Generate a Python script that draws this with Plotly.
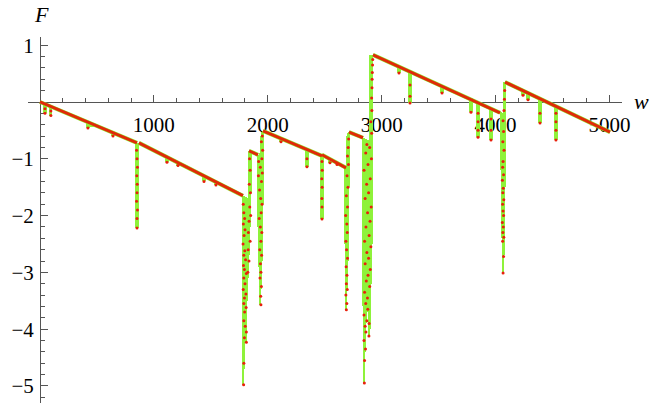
import numpy as np
import plotly.graph_objects as go

# ---- sawtooth envelope: straight pieces (start w, start F, end w, end F)
seg_w0 = [0, 869, 1835, 1958, 2476, 2713, 2924, 4083]
seg_f0 = [0.0, -0.72, -0.86, -0.51, -0.93, -0.53, 0.83, 0.35]
seg_w1 = [852, 1782, 1914, 2476, 2687, 2836, 4039, 5005]
seg_f1 = [-0.72, -1.65, -0.93, -0.95, -1.16, -0.63, -0.19, -0.53]

# ---- wide dip regions: column position, top value, deepest value
col_w = [1782, 1788, 1796, 1804, 1812, 1820, 1828, 1836, 1844, 1850,
         1918, 1926, 1934, 1942, 1950, 1958,
         2682, 2690, 2698, 2706, 2713,
         2840, 2848, 2856, 2864, 2872, 2880, 2888, 2896, 2904, 2912, 2920,
         4050, 4058, 4066, 4074, 4082]
col_top = [-1.65, -1.66, -1.66, -1.67, -1.68, -1.69, -1.70, -0.86, -0.87, -0.87,
           -0.93, -0.93, -0.90, -0.60, -0.52, -0.51,
           -1.15, -1.16, -0.60, -0.54, -0.53,
           -0.63, -0.64, -0.65, -0.66, -0.67, -0.67, -0.68, 0.83, 0.83, 0.83, 0.83,
           -0.18, -0.19, -0.19, 0.35, 0.35]
col_bot = [-2.90, -4.98, -4.70, -3.90, -4.23, -3.50, -3.10, -2.70, -2.20, -1.60,
           -2.20, -2.90, -3.57, -3.30, -2.80, -1.80,
           -2.50, -3.66, -3.30, -2.80, -1.50,
           -3.60, -4.95, -4.40, -3.90, -3.50, -3.70, -4.12, -4.00, -3.20, -2.50, -1.20,
           -1.20, -2.40, -3.01, -2.70, -1.50]

# ---- narrow drips hanging from the envelope: position, lowest value
drip_w = [44, 96, 421, 457, 641, 852, 1115, 1212, 1440, 1545,
          2116, 2344, 2476, 2546, 2608, 3152, 3249, 3530, 3784, 3846, 3960,
          4241, 4285, 4390, 4530]
drip_bot = [-0.20, -0.24, -0.46, -0.44, -0.60, -2.22, -1.06, -1.12, -1.40, -1.46,
            -0.70, -1.14, -2.06, -1.07, -1.10, 0.51, -0.02, 0.16, -0.18, -0.62, -0.67,
            0.12, 0.04, -0.37, -0.67]

# ---- sampled points lying inside the dips
pt_w = [44, 44, 96, 96, 421, 641,
        848, 852, 856, 850, 854, 852, 848, 856, 852, 852,
        1115, 1212, 1440, 1545,
        1785, 1790, 1797, 1786, 1800, 1792, 1783, 1798, 1790, 1805, 1787, 1795, 1812, 1790,
        1800, 1785, 1808, 1795, 1790, 1810, 1797, 1790, 1802, 1812, 1795, 1812, 1790, 1788,
        1840, 1845, 1838, 1848, 1842, 1850, 1836, 1830, 1845, 1828, 1835, 1825,
        1940, 1938, 1944, 1932, 1940, 1936, 1946, 1930, 1940, 1948, 1935, 1925, 1942,
        1950, 1938, 1928, 1945, 1952, 1935, 1948, 1955, 1944, 1952, 1920, 1918,
        2116, 2344, 2344, 2546, 2608,
        2476, 2478, 2474, 2477, 2475, 2476, 2476,
        2690, 2694, 2686, 2698, 2690, 2695, 2688, 2700, 2692, 2686, 2698, 2694, 2684,
        2700, 2690, 2704, 2696, 2708, 2700, 2706, 2710,
        2848, 2850, 2858, 2845, 2862, 2855, 2870, 2845, 2878, 2860, 2888, 2890, 2875,
        2850, 2895, 2865, 2880, 2900, 2855, 2885, 2870, 2905, 2850, 2890, 2862, 2898,
        2876, 2908, 2855, 2885, 2868, 2900, 2845, 2880, 2910, 2860, 2895, 2870, 2912,
        2905, 2914, 2912, 2915, 2916, 2918, 2920, 2922,
        3152, 3249, 3249, 3249, 3530, 3784, 3846, 3846, 3846, 3846, 3960, 3960, 3960,
        4066, 4070, 4062, 4072, 4064, 4068, 4060, 4070, 4066, 4062, 4072, 4064, 4068,
        4060, 4070, 4062, 4066, 4074, 4064, 4070, 4066, 4074, 4078, 4080,
        4241, 4285, 4390, 4390, 4530, 4530, 4530, 4530]
pt_f = [-0.12, -0.20, -0.16, -0.24, -0.46, -0.60,
        -0.85, -1.00, -1.15, -1.30, -1.45, -1.60, -1.75, -1.90, -2.05, -2.22,
        -1.06, -1.12, -1.40, -1.46,
        -1.80, -1.95, -2.05, -2.15, -2.25, -2.35, -2.50, -2.62, -2.70, -2.78, -2.88, -2.95,
        -3.02, -3.10, -3.20, -3.30, -3.38, -3.45, -3.55, -3.62, -3.70, -3.85, -3.95, -4.05,
        -4.15, -4.23, -4.60, -4.98,
        -1.00, -1.20, -1.45, -1.60, -1.85, -2.00, -2.10, -2.30, -2.45, -2.60, -2.80, -3.00,
        -3.57, -3.42, -3.25, -3.10, -3.00, -2.85, -2.70, -2.60, -2.45, -2.30, -2.20, -2.05,
        -1.95, -1.80, -1.70, -1.55, -1.40, -1.25, -1.15, -1.00, -0.85, -0.70, -0.60, -1.05,
        -1.30,
        -0.70, -1.00, -1.14, -1.07, -1.10,
        -1.05, -1.20, -1.35, -1.50, -1.70, -1.85, -2.06,
        -3.66, -3.55, -3.40, -3.30, -3.20, -3.05, -2.90, -2.75, -2.60, -2.45, -2.30, -2.15,
        -2.00, -1.85, -1.65, -1.50, -1.30, -1.10, -0.95, -0.80, -0.65,
        -4.95, -4.55, -4.35, -4.20, -4.05, -3.95, -3.85, -3.75, -3.65, -3.55, -4.12, -3.90,
        -3.45, -3.35, -3.25, -3.15, -3.05, -2.95, -2.85, -2.75, -2.65, -2.55, -2.45, -2.35,
        -2.20, -2.10, -1.95, -1.85, -1.70, -1.60, -1.45, -1.35, -1.20, -1.10, -1.00, -0.90,
        -0.80, -0.75, -0.55, -0.35, -0.15, 0.07, 0.25, 0.40, 0.52, 0.65, 0.75,
        0.51, 0.30, 0.10, -0.02, 0.16, -0.18, -0.20, -0.35, -0.50, -0.62, -0.30, -0.50, -0.67,
        -3.01, -2.72, -2.45, -2.38, -2.30, -2.20, -2.12, -2.00, -1.92, -1.80, -1.72, -1.60,
        -1.52, -1.38, -1.28, -1.15, -1.05, -0.85, -0.70, -0.52, -0.33, -0.15, 0.05, 0.20,
        0.12, 0.04, -0.20, -0.37, -0.20, -0.35, -0.50, -0.67]

# ---- axis ticks
x_tick_vals = [1000, 2000, 3000, 4000, 5000]
x_tick_text = ["1000", "2000", "3000", "4000", "5000"]
y_tick_vals = [-5, -4, -3, -2, -1, 1]
y_tick_text = ["\u22125", "\u22124", "\u22123", "\u22122", "\u22121", "1"]

X_RANGE = [-105, 5110]
Y_RANGE = [-5.30, 1.144]

GREEN = "#8ef23a"
RED = "#e8200c"
LINE_RED = "#e02a08"
AXIS = "#555555"
FONT = "Liberation Serif, Times New Roman, serif"


def envelope(w):
    for a, fa, b, fb in zip(seg_w0, seg_f0, seg_w1, seg_f1):
        if a <= w <= b:
            return fa + (fb - fa) * (w - a) / (b - a)
    return None


# envelope polyline, one piece per segment
env_x, env_y = [], []
for a, fa, b, fb in zip(seg_w0, seg_f0, seg_w1, seg_f1):
    env_x += [a, b, None]
    env_y += [fa, fb, None]

drip_top = [envelope(w) for w in drip_w]

fig = go.Figure()

# green filling of the dips
fig.add_trace(go.Bar(
    x=col_w, y=np.array(col_bot) - np.array(col_top), base=col_top,
    width=11, marker=dict(color=GREEN, line=dict(width=0)), hoverinfo="skip"))
fig.add_trace(go.Bar(
    x=drip_w, y=np.array(drip_bot) - np.array(drip_top), base=drip_top,
    width=28, marker=dict(color=GREEN, line=dict(width=0)), hoverinfo="skip"))

# green rim under the envelope
fig.add_trace(go.Scatter(x=env_x, y=env_y, mode="lines",
                         line=dict(color=GREEN, width=4), hoverinfo="skip"))
# envelope
fig.add_trace(go.Scatter(x=env_x, y=env_y, mode="lines",
                         line=dict(color=LINE_RED, width=3)))
# sample points
fig.add_trace(go.Scatter(x=pt_w, y=pt_f, mode="markers",
                         marker=dict(color=RED, size=3, line=dict(width=0))))

minor_x = [v for v in range(0, 5001, 200) if v % 1000 != 0]
minor_y = [round(v, 1) for v in np.arange(-5.2, 1.15, 0.2) if abs(v - round(v)) > 1e-6]

y0_frac = (0 - Y_RANGE[0]) / (Y_RANGE[1] - Y_RANGE[0])
x0_frac = (0 - X_RANGE[0]) / (X_RANGE[1] - X_RANGE[0])

fig.update_layout(
    width=650, height=405,
    margin=dict(l=28, r=28, t=37, b=2),
    paper_bgcolor="white", plot_bgcolor="white",
    showlegend=False, barmode="overlay", bargap=0,
    xaxis=dict(range=X_RANGE, anchor="free", position=y0_frac,
               showgrid=False, zeroline=False, showline=True,
               linecolor=AXIS, linewidth=1,
               ticks="inside", ticklen=7, tickwidth=1, tickcolor=AXIS,
               tickvals=x_tick_vals, ticktext=x_tick_text,
               tickfont=dict(family=FONT, size=21, color="black"),
               ticklabelstandoff=4,
               minor=dict(tickvals=minor_x, ticks="inside", ticklen=4,
                          tickcolor=AXIS, showgrid=False),
               layer="below traces"),
    yaxis=dict(range=Y_RANGE, anchor="free", position=x0_frac,
               showgrid=False, zeroline=False, showline=True,
               linecolor=AXIS, linewidth=1,
               ticks="inside", ticklen=7, tickwidth=1, tickcolor=AXIS,
               tickvals=y_tick_vals, ticktext=y_tick_text,
               tickfont=dict(family=FONT, size=21, color="black"),
               ticklabelstandoff=2,
               minor=dict(tickvals=minor_y, ticks="inside", ticklen=4,
                          tickcolor=AXIS, showgrid=False),
               layer="below traces"),
    annotations=[
        dict(text="<i>F</i>", xref="paper", yref="paper",
             x=(41 - 28) / 594, y=(403 - 15) / 366,
             xanchor="center", yanchor="middle",
             showarrow=False, font=dict(family=FONT, size=22, color="black")),
        dict(text="<i>w</i>", xref="paper", yref="paper",
             x=(641 - 28) / 594, y=(403 - 102) / 366,
             xanchor="center", yanchor="middle",
             showarrow=False, font=dict(family=FONT, size=22, color="black")),
    ],
)

fig.write_html("out.html")
